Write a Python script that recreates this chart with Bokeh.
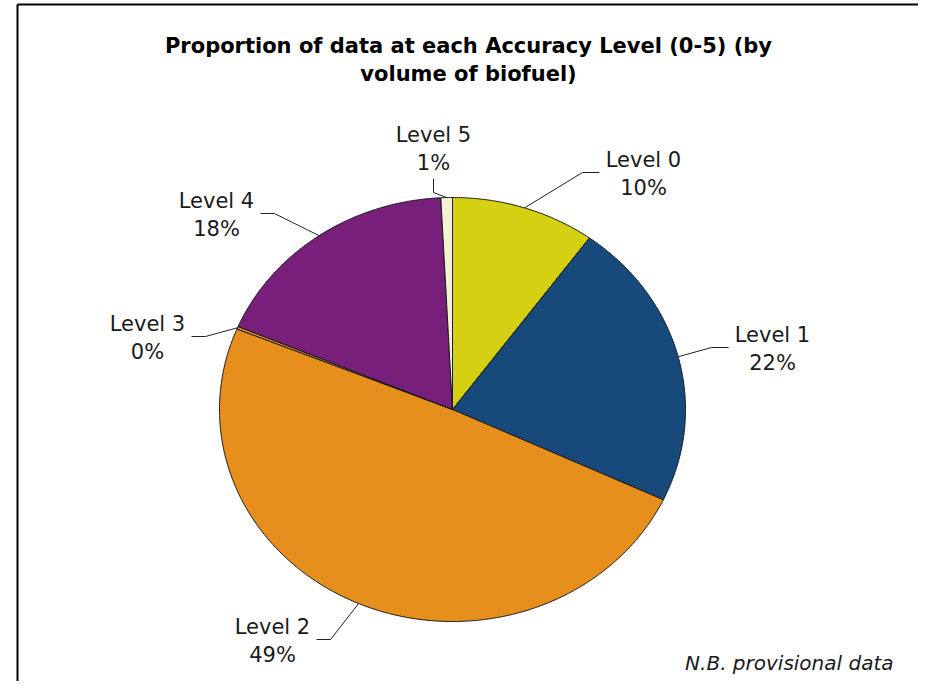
import math
from bokeh.plotting import figure
from bokeh.models import Range1d
from bokeh.core.properties import value
from bokeh.embed import file_html
from bokeh.resources import INLINE

# ---- data ----
levels = ["Level 0", "Level 1", "Level 2", "Level 3", "Level 4", "Level 5"]
shares = [10.0, 22.0, 49.2, 0.2, 17.8, 0.8]
colors = ["#D5D012", "#174A7B", "#E68F1D", "#E68F1D", "#771F7A", "#F6F1D4"]
title_lines = ["Proportion of data at each Accuracy Level (0-5) (by", "volume of biofuel)"]
note = "N.B. provisional data"

# ---- layout (reference pixel space, y downward) ----
CX, CY, RX, RY = 452, 409, 233, 212
# label block centres and the side the leader attaches to
label_pos = [(643, 172, "left"), (772, 347, "left"), (272, 639, "right"),
             (147, 336, "right"), (216, 213, "right"), (433, 147, "bottom")]
LABEL_HALF_W = 41
FONT = "DejaVu Sans"

p = figure(width=918, height=681, x_range=Range1d(0, 918), y_range=Range1d(681, 0),
           output_backend="svg", toolbar_location=None, x_axis_type=None, y_axis_type=None,
           min_border=0, outline_line_color=None, background_fill_color="white",
           border_fill_color="white")
p.grid.visible = False

def pt(theta_deg, scale=1.0):
    t = math.radians(theta_deg)
    return CX + RX * scale * math.sin(t), CY - RY * scale * math.cos(t)

total = sum(shares)
xs, ys, mids = [], [], []
start = 0.0
for s in shares:
    a0 = start / total * 360.0
    a1 = (start + s) / total * 360.0
    n = max(2, int((a1 - a0) / 0.5) + 2)
    px, py = [CX], [CY]
    for i in range(n):
        x, y = pt(a0 + (a1 - a0) * i / (n - 1))
        px.append(x)
        py.append(y)
    xs.append(px)
    ys.append(py)
    mids.append((a0 + a1) / 2)
    start += s

p.patches(xs, ys, fill_color=colors, line_color="#1a1a1a", line_width=1)

# leader lines
for mid, (lx, ly, side) in zip(mids, label_pos):
    ex, ey = pt(mid)
    if side == "left":
        end = (lx - LABEL_HALF_W - 3, ly)
        elbow = (end[0] - 17, ly)
    elif side == "right":
        end = (lx + LABEL_HALF_W + 3, ly)
        elbow = (end[0] + 14, ly)
    else:
        end = (lx, ly + 31)
        elbow = (lx, ly + 45)
    p.line([ex, elbow[0], end[0]], [ey, elbow[1], end[1]], line_color="#222222", line_width=1)

# labels
names_x = [lp[0] for lp in label_pos]
names_y = [lp[1] for lp in label_pos]
pct_text = [f"{round(s)}%" for s in shares]
p.text(names_x, names_y, text=levels, text_align="center", text_baseline="middle",
       y_offset=-13, text_font=value(FONT), text_font_size="21px", text_color="#1a1a1a")
p.text(names_x, names_y, text=pct_text, text_align="center", text_baseline="middle",
       y_offset=15, text_font=value(FONT), text_font_size="21px", text_color="#1a1a1a")

# title
p.text([468, 468], [45, 73], text=title_lines, text_align="center", text_baseline="middle",
       text_font=value(FONT), text_font_style="bold", text_font_size="21px", text_color="black")

# note
p.text([893], [662], text=[note], text_align="right", text_baseline="middle",
       text_font=value(FONT), text_font_style="italic", text_font_size="20px", text_color="#1a1a1a")

# frame (left and top edges of the chart area)
p.line([17, 17], [4, 681], line_color="black", line_width=2)
p.line([17, 918], [4, 4], line_color="black", line_width=2)

open("out.html", "w").write(file_html(p, INLINE))
